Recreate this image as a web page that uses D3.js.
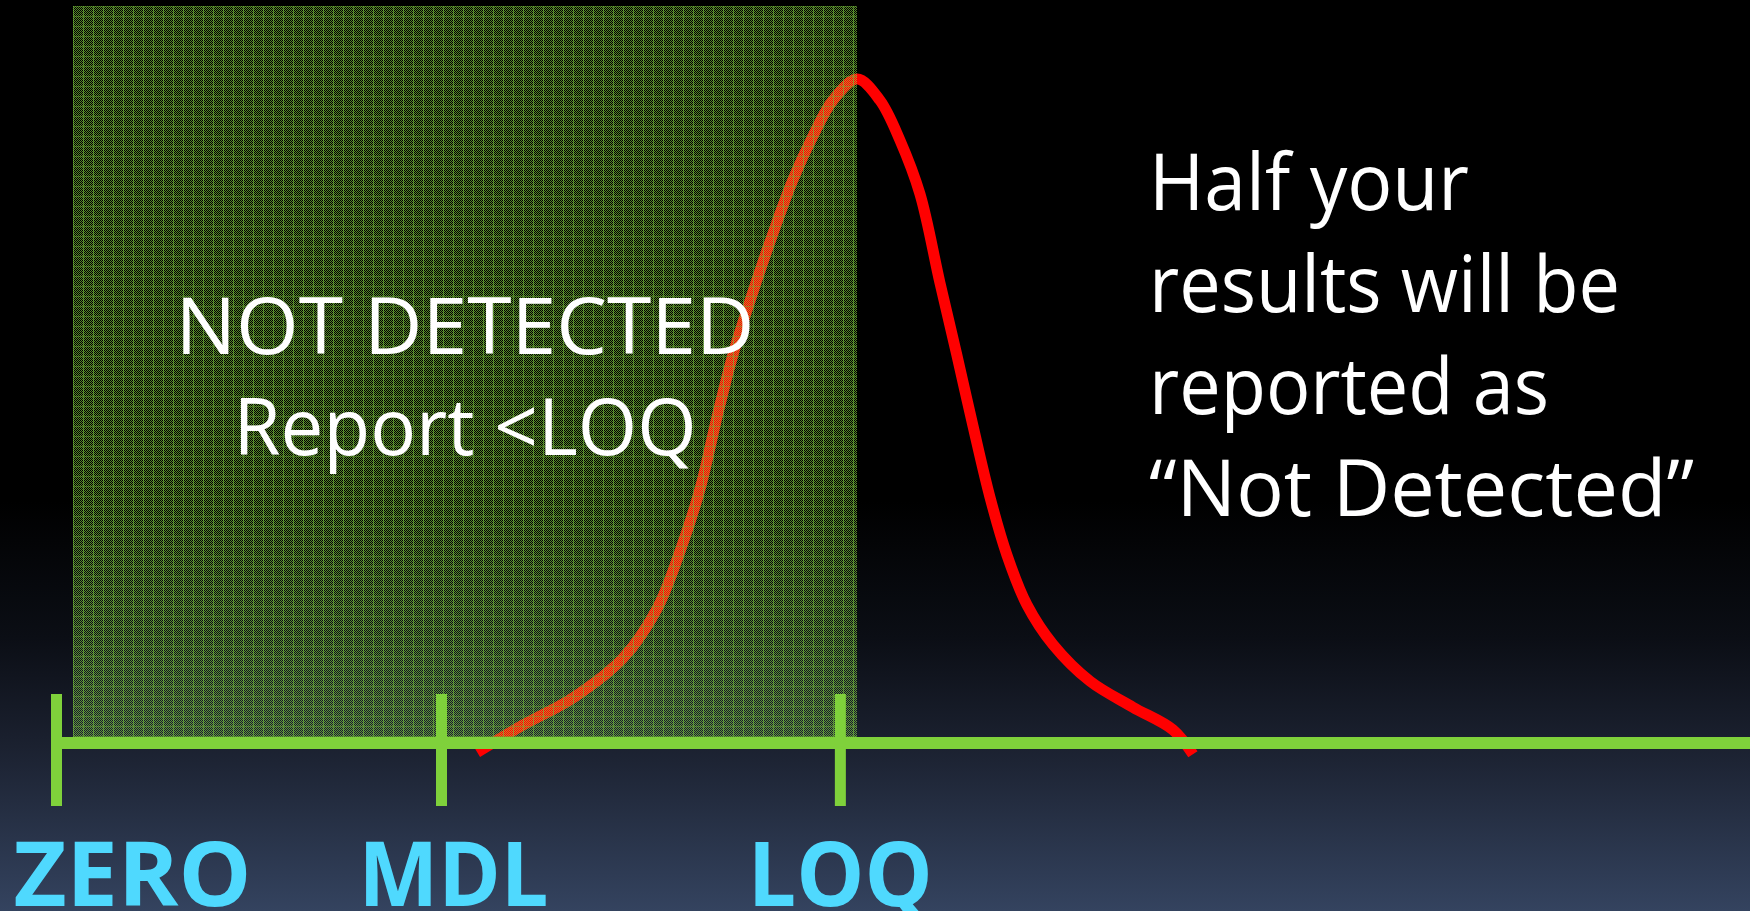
<!DOCTYPE html>
<html>
<head>
<meta charset="utf-8">
<script src="https://cdn.jsdelivr.net/npm/d3@7"></script>
<style>
  html, body { margin: 0; padding: 0; background: #000; overflow: hidden; }
  svg { display: block; }
</style>
</head>
<body>
<svg id="chart" width="1750" height="911"></svg>
<script>
// ---------- data ----------
// concentration axis (MDL = 1 unit)
const tickValues = [0, 1.0, 2.036];
const tickLabels = ["ZERO", "MDL", "LOQ"];

// region reported as "not detected" (concentration range)
const notDetectedRange = [0.044, 2.081];

// measured-result distribution (relative frequency)
const curveX = [1.094, 1.213, 1.343, 1.473, 1.561, 1.621, 1.673, 1.717, 1.758, 1.810, 1.862, 1.914, 1.966, 2.018, 2.081,
                2.140, 2.192, 2.244, 2.296, 2.340, 2.382, 2.426, 2.470, 2.522, 2.590, 2.686, 2.797, 2.901, 2.953];
const curveY = [-0.014, 0.027, 0.068, 0.128, 0.202, 0.289, 0.383, 0.491, 0.584, 0.679, 0.767, 0.848, 0.914, 0.968, 1.000,
                0.968, 0.908, 0.827, 0.693, 0.584, 0.477, 0.370, 0.283, 0.208, 0.148, 0.093, 0.054, 0.020, -0.017];

const boxLines = ["NOT DETECTED", "Report <LOQ"];
const noteLines = ["Half your", "results will be", "reported as", "\u201CNot Detected\u201D"];

// ---------- layout ----------
const W = 1750, H = 911;
const svg = d3.select("#chart");
const x = d3.scaleLinear().domain([0, 4.4]).range([56, 56 + 4.4 * 385]);
const y = d3.scaleLinear().domain([0, 1.11]).range([743, 6]);

const defs = svg.append("defs");
const bg = defs.append("linearGradient").attr("id", "bg")
  .attr("x1", 0).attr("y1", 0).attr("x2", 0).attr("y2", 1);
[[0, "#000000"], [0.55, "#000000"], [0.70, "#0b0e15"], [0.82, "#1b2130"], [1, "#34435f"]]
  .forEach(([o, c]) => bg.append("stop").attr("offset", o).attr("stop-color", c));

const checker = defs.append("pattern").attr("id", "checker")
  .attr("patternUnits", "userSpaceOnUse").attr("width", 2).attr("height", 2);
checker.append("rect").attr("x", 0).attr("y", 0).attr("width", 1).attr("height", 1)
  .attr("fill", "#98f04c").attr("fill-opacity", 0.55);
checker.append("rect").attr("x", 1).attr("y", 1).attr("width", 1).attr("height", 1)
  .attr("fill", "#98f04c").attr("fill-opacity", 0.55);

const grid = defs.append("pattern").attr("id", "grid")
  .attr("patternUnits", "userSpaceOnUse").attr("width", 10).attr("height", 10)
  .attr("x", 73).attr("y", 6);
grid.append("rect").attr("width", 10).attr("height", 10).attr("fill", "url(#checker)");
grid.append("rect").attr("x", 0).attr("y", 0).attr("width", 1).attr("height", 10)
  .attr("fill", "#74bc3a").attr("fill-opacity", 0.55);
grid.append("rect").attr("x", 1).attr("y", 0).attr("width", 9).attr("height", 1)
  .attr("fill", "#6cb034").attr("fill-opacity", 0.45);

svg.append("rect").attr("width", W).attr("height", H).attr("fill", "url(#bg)");

// distribution curve
const line = d3.line()
  .x((d, i) => x(curveX[i]))
  .y((d, i) => y(curveY[i]))
  .curve(d3.curveCatmullRom.alpha(0.5));
svg.append("path")
  .attr("d", line(curveX))
  .attr("fill", "none")
  .attr("stroke", "#ff0000")
  .attr("stroke-width", 11)
  .attr("stroke-linejoin", "round");

// not-detected region (semi-transparent dithered box)
svg.append("rect")
  .attr("x", x(notDetectedRange[0]))
  .attr("y", y(1.11))
  .attr("width", x(notDetectedRange[1]) - x(notDetectedRange[0]))
  .attr("height", y(0) - y(1.11))
  .attr("fill", "url(#grid)")
  .attr("shape-rendering", "crispEdges");

// box text
const boxWidths = [579, 463];
svg.append("g").selectAll("text").data(boxLines).join("text")
  .attr("x", 465)
  .attr("y", (d, i) => 354 + i * 101)
  .attr("text-anchor", "middle")
  .attr("font-family", "'Open Sans', sans-serif")
  .attr("font-size", 78)
  .attr("fill", "#ffffff")
  .attr("textLength", (d, i) => boxWidths[i])
  .attr("lengthAdjust", "spacingAndGlyphs")
  .text(d => d);

// note text
const noteWidths = [320, 471, 400, 545];
svg.append("g").selectAll("text").data(noteLines).join("text")
  .attr("x", 1149)
  .attr("y", (d, i) => 210 + i * 102)
  .attr("font-family", "'Open Sans', sans-serif")
  .attr("font-size", 78)
  .attr("fill", "#ffffff")
  .attr("textLength", (d, i) => noteWidths[i])
  .attr("lengthAdjust", "spacingAndGlyphs")
  .text(d => d);

// axis
const labelWidths = [238, 190, 185];
const axis = d3.axisBottom(x)
  .tickValues(tickValues)
  .tickSizeOuter(0)
  .tickFormat((d, i) => tickLabels[i]);
const gAxis = svg.append("g").attr("transform", `translate(0,${y(0)})`).call(axis);
gAxis.select(".domain")
  .attr("d", `M${x(0) - 5},0H${W}`)
  .attr("stroke", "#7fd13b").attr("stroke-width", 12);
gAxis.selectAll(".tick line")
  .attr("y1", -49).attr("y2", 63)
  .attr("stroke", "#7fd13b").attr("stroke-width", 11);
gAxis.selectAll(".tick text")
  .attr("y", 163).attr("dy", 0)
  .attr("font-family", "'Open Sans', sans-serif")
  .attr("font-weight", "bold")
  .attr("font-size", 90)
  .attr("fill", "#4fd9fe")
  .attr("textLength", (d, i) => labelWidths[i])
  .attr("lengthAdjust", "spacingAndGlyphs")
  .each(function(d, i) {
    const w = labelWidths[i];
    const cx = x(d) + (i === 1 ? 12 : 0);
    const minCx = 13 + w / 2;
    d3.select(this).attr("x", Math.max(cx, minCx) - x(d));
  });
</script>
</body>
</html>
